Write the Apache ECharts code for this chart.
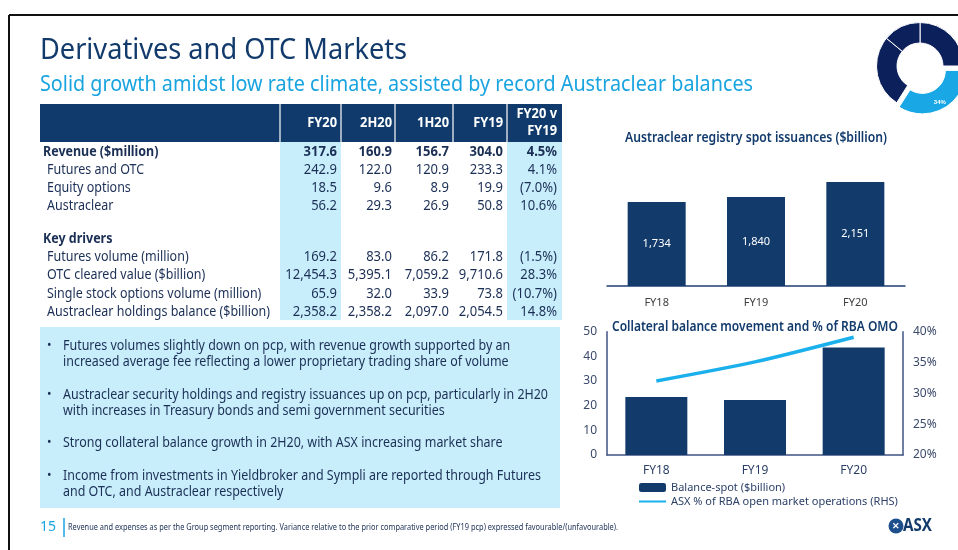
<!DOCTYPE html>
<html>
<head>
<meta charset="utf-8">
<script src="https://cdn.jsdelivr.net/npm/echarts@6/dist/echarts.min.js"></script>
<style>
  html, body { margin: 0; padding: 0; background: #fff; }
  #container { width: 958px; height: 550px; }
</style>
</head>
<body>
<div id="container"></div>
<script>
// ---- data ----
var tableHeads = ['FY20', '2H20', '1H20', 'FY19', 'FY20 v\nFY19'];
var revenueRows = [
    ['Revenue ($million)', '317.6', '160.9', '156.7', '304.0', '4.5%'],
    ['Futures and OTC', '242.9', '122.0', '120.9', '233.3', '4.1%'],
    ['Equity options', '18.5', '9.6', '8.9', '19.9', '(7.0%)'],
    ['Austraclear', '56.2', '29.3', '26.9', '50.8', '10.6%']
];
var driverRows = [
    ['Futures volume (million)', '169.2', '83.0', '86.2', '171.8', '(1.5%)'],
    ['OTC cleared value ($billion)', '12,454.3', '5,395.1', '7,059.2', '9,710.6', '28.3%'],
    ['Single stock options volume (million)', '65.9', '32.0', '33.9', '73.8', '(10.7%)'],
    ['Austraclear holdings balance ($billion)', '2,358.2', '2,358.2', '2,097.0', '2,054.5', '14.8%']
];
var bullets = [
    ['Futures volumes slightly down on pcp, with revenue growth supported by an',
     'increased average fee reflecting a lower proprietary trading share of volume'],
    ['Austraclear security holdings and registry issuances up on pcp, particularly in 2H20',
     'with increases in Treasury bonds and semi government securities'],
    ['Strong collateral balance growth in 2H20, with ASX increasing market share'],
    ['Income from investments in Yieldbroker and Sympli are reported through Futures',
     'and OTC, and Austraclear respectively']
];
var donutShares = [25, 34, 27, 14];
var issuanceYears = ['FY18', 'FY19', 'FY20'];
var issuanceValues = [1734, 1840, 2151];
var collateralYears = ['FY18', 'FY19', 'FY20'];
var collateralBalance = [23.5, 22.3, 43.6];
var rbaShare = [32.0, 35.1, 39.1];

var FONT = "'Noto Sans', sans-serif";
var NAVY = '#123b6c';
var TEXT = '#1b2f55';
var SKY = '#1aa7e6';
var PALE = '#c8eefc';

var mctx = document.createElement('canvas').getContext('2d');
function widthOf(text, font) {
    mctx.font = font;
    return mctx.measureText(text).width;
}
function label(x, y, text, size, color, o) {
    o = o || {};
    var font = (o.weight || 'normal') + ' ' + size + 'px ' + FONT;
    var sx = o.scale || 1;
    if (o.width) {
        sx = o.width / widthOf(text, font);
    }
    return {
        type: 'text', x: x, y: y, scaleX: sx, silent: true, z: 20,
        style: {
            text: text, font: font, fill: color,
            textAlign: o.align || 'left', align: o.align || 'left',
            textVerticalAlign: 'middle', verticalAlign: 'middle',
            lineHeight: o.lineHeight || size * 1.2
        }
    };
}

var bodyScale = 223 / widthOf('Austraclear holdings balance ($billion)', '14px ' + FONT);
var bulletScale = 485 / widthOf(bullets[1][0], '14px ' + FONT);

var g = [];
// slide frame
g.push({ type: 'line', silent: true, shape: { x1: 9, y1: 15, x2: 958, y2: 15 }, style: { stroke: '#111', lineWidth: 2 } });
g.push({ type: 'line', silent: true, shape: { x1: 9, y1: 15, x2: 9, y2: 550 }, style: { stroke: '#111', lineWidth: 2 } });

// titles
g.push(label(40, 51, 'Derivatives and OTC Markets', 29, NAVY, { width: 367 }));
g.push(label(40, 85, 'Solid growth amidst low rate climate, assisted by record Austraclear balances', 21, '#19a4e0', { width: 713 }));

// table
var colSep = [280, 341, 395, 453, 507];
var colRight = [337, 392, 449, 503, 557];
g.push({ type: 'rect', silent: true, shape: { x: 40, y: 104, width: 522, height: 38 }, style: { fill: '#0f3a6b' } });
g.push({ type: 'rect', silent: true, shape: { x: 280, y: 142, width: 61, height: 178 }, style: { fill: PALE } });
g.push({ type: 'rect', silent: true, shape: { x: 507, y: 142, width: 55, height: 178 }, style: { fill: PALE } });
colSep.forEach(function (x) {
    g.push({ type: 'line', silent: true, shape: { x1: x, y1: 104, x2: x, y2: 142 }, style: { stroke: '#fff', lineWidth: 1.2 } });
});
tableHeads.forEach(function (h, i) {
    g.push(label(colRight[i], 123, h, 14, '#fff', { weight: 'bold', align: 'right', lineHeight: 17, scale: 0.92 }));
});
function addRow(row, y, bold, indent) {
    g.push(label(indent ? 47 : 43, y, row[0], 14, TEXT, { weight: bold ? 'bold' : 'normal', scale: bodyScale }));
    for (var i = 1; i < row.length; i++) {
        g.push(label(colRight[i - 1], y, row[i], 14, TEXT, { weight: bold ? 'bold' : 'normal', align: 'right', scale: 0.93 }));
    }
}
revenueRows.forEach(function (r, i) { addRow(r, 152 + i * 18, i === 0, i > 0); });
g.push(label(43, 239, 'Key drivers', 14, TEXT, { weight: 'bold', scale: bodyScale }));
driverRows.forEach(function (r, i) { addRow(r, 257 + i * 18.3, false, true); });

// commentary box
g.push({ type: 'rect', silent: true, shape: { x: 40, y: 327, width: 520, height: 181 }, style: { fill: PALE } });
var by = [346, 395, 443, 476];
bullets.forEach(function (b, i) {
    g.push(label(47, by[i], '•', 12, TEXT));
    b.forEach(function (line, j) {
        g.push(label(63, by[i] + j * 16, line, 14, TEXT, { scale: bulletScale }));
    });
});

// footer
g.push(label(40, 527, '15', 14, '#19a4e0'));
g.push({ type: 'line', silent: true, shape: { x1: 64, y1: 518, x2: 64, y2: 537 }, style: { stroke: '#19a4e0', lineWidth: 1.5 } });
g.push(label(68, 527, 'Revenue and expenses as per the Group segment reporting. Variance relative to the prior comparative period (FY19 pcp) expressed favourable/(unfavourable).', 9, TEXT, { width: 550 }));
g.push({ type: 'circle', silent: true, shape: { cx: 896, cy: 526, r: 7.5 }, style: { fill: '#1d4f8c' } });
g.push(label(896, 526, '✕', 9, '#fff', { align: 'center', weight: 'bold' }));
g.push(label(903, 526, 'ASX', 17, NAVY, { weight: 'bold', width: 29 }));

// chart titles
g.push(label(756, 138, 'Austraclear registry spot issuances ($billion)', 14, NAVY, { align: 'center', weight: '600', width: 262 }));
g.push(label(755, 327, 'Collateral balance movement and % of RBA OMO', 14, NAVY, { align: 'center', weight: '600', width: 286 }));

var dom = document.getElementById('container');
var myChart = echarts.init(dom, null, { renderer: 'canvas' });

var donutColors = ['#0c205c', SKY, '#0c205c', '#0c205c'];
var axisCol = '#3f5383';

var option = {
    animation: false,
    backgroundColor: '#fff',
    graphic: g,
    grid: [
        { left: 607, top: 165, width: 298, height: 121, containLabel: false },
        { left: 607, top: 331.7, width: 296, height: 123.3, containLabel: false }
    ],
    legend: {
        data: [
            { name: 'Balance-spot ($billion)' },
            { name: 'ASX % of RBA open market operations (RHS)', itemStyle: { opacity: 0 } }
        ],
        orient: 'vertical',
        left: 638,
        top: 482,
        itemWidth: 27,
        itemHeight: 9,
        itemGap: 3,
        padding: 0,
        selectedMode: false,
        textStyle: { fontFamily: FONT, fontSize: 11, color: '#2b3f66' }
    },
    xAxis: [
        {
            gridIndex: 0, type: 'category', data: issuanceYears,
            axisLine: { lineStyle: { color: '#1f3f73', width: 1.5 } },
            axisTick: { show: false },
            axisLabel: { color: '#404040', fontSize: 11, fontFamily: FONT, margin: 11 }
        },
        {
            gridIndex: 1, type: 'category', data: collateralYears,
            axisLine: { lineStyle: { color: axisCol, width: 1.5 } },
            axisTick: { show: false },
            axisLabel: { color: '#2b3f66', fontSize: 12, fontFamily: FONT, margin: 10 }
        }
    ],
    yAxis: [
        { gridIndex: 0, type: 'value', min: 0, max: 2500, show: false },
        {
            gridIndex: 1, type: 'value', min: 0, max: 50, interval: 10,
            axisLine: { show: true, lineStyle: { color: axisCol, width: 1.5 } },
            axisTick: { show: false },
            splitLine: { show: false },
            axisLabel: { color: '#3b4a6b', fontSize: 12, fontFamily: FONT, margin: 10 }
        },
        {
            gridIndex: 1, type: 'value', position: 'right', min: 20, max: 40, interval: 5,
            axisLine: { show: true, lineStyle: { color: axisCol, width: 1.5 } },
            axisTick: { show: false },
            splitLine: { show: false },
            axisLabel: { color: '#3b4a6b', fontSize: 12, fontFamily: FONT, margin: 10, formatter: '{value}%' }
        }
    ],
    series: [
        {
            type: 'pie',
            center: [920, 66],
            radius: [23, 43.5],
            startAngle: 90,
            clockwise: true,
            selectedMode: 'single',
            selectedOffset: 5,
            label: { show: false },
            labelLine: { show: false },
            itemStyle: { borderColor: '#fff', borderWidth: 1 },
            emphasis: { disabled: true },
            data: donutShares.map(function (v, i) {
                var d = { value: v, itemStyle: { color: donutColors[i] } };
                if (i === 1) {
                    d.selected = true;
                    d.label = { show: true, position: 'inside', formatter: '{c}%', color: '#fff', fontSize: 6, fontWeight: 'bold' };
                }
                return d;
            })
        },
        {
            name: 'Spot issuances',
            type: 'bar',
            xAxisIndex: 0, yAxisIndex: 0,
            data: issuanceValues,
            barWidth: 58,
            itemStyle: { color: NAVY },
            label: {
                show: true, position: 'inside', color: '#fff', fontSize: 11, fontFamily: FONT,
                formatter: function (p) { return p.value.toLocaleString('en-US'); }
            }
        },
        {
            name: 'Balance-spot ($billion)',
            type: 'bar',
            xAxisIndex: 1, yAxisIndex: 1,
            data: collateralBalance,
            barWidth: 62,
            itemStyle: { color: NAVY }
        },
        {
            name: 'ASX % of RBA open market operations (RHS)',
            type: 'line',
            xAxisIndex: 1, yAxisIndex: 2,
            data: rbaShare,
            smooth: 0.25,
            symbol: 'none',
            lineStyle: { color: '#1ab0ec', width: 3.5 },
            itemStyle: { color: '#1ab0ec' }
        }
    ]
};
if (option && typeof option === 'object') {
    myChart.setOption(option, true);
}
</script>
</body>
</html>
